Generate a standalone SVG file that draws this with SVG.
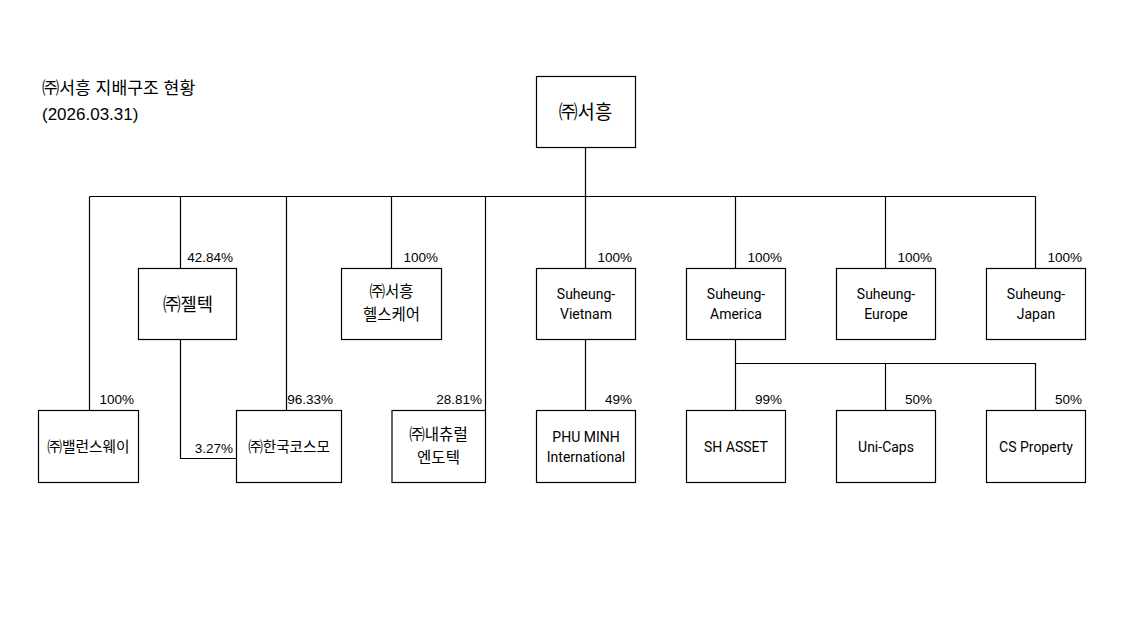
<svg xmlns="http://www.w3.org/2000/svg" width="1143" height="617" viewBox="0 0 1143 617">
<style>
text{font-family:"Liberation Sans","Noto Sans CJK KR",sans-serif;fill:#000}
.box{fill:#fff;stroke:#000;stroke-width:1.2}
.ln{fill:none;stroke:#000;stroke-width:1.2}
.pct{font-size:13.5px;text-anchor:end}
.kr{font-size:15.5px;text-anchor:middle}
.en{font-family:Roboto,"Liberation Sans",sans-serif;font-size:14px;text-anchor:middle}
</style>
<rect width="1143" height="617" fill="#fff"/>
<g id="title">
<text x="42" y="94" style="font-size:17.2px">㈜서흥 지배구조 현황</text>
<text x="42" y="120" style="font-size:17px">(2026.03.31)</text>
</g>
<g id="connectors">
<path class="ln" d="M585.5 148V196.5M89.5 196.5H1035.5"/>
<path class="ln" d="M89.5 196.5V410M180.5 196.5V268M286.5 196.5V410M391.5 196.5V268M485.5 196.5V410M585.5 196.5V268M735.5 196.5V268M885.5 196.5V268M1035.5 196.5V268"/>
<path class="ln" d="M180.5 339V458.5H236"/>
<path class="ln" d="M585.5 339V410"/>
<path class="ln" d="M735.5 339V410M735.5 363.5H1035.5V410M885.5 363.5V410"/>
</g>
<g id="n-root"><rect class="box" x="536.5" y="76.5" width="99" height="71"/><text class="kr" x="585.5" y="119" style="font-size:18.8px">㈜서흥</text></g>
<g id="n-zeltek"><rect class="box" x="138.5" y="268.5" width="98" height="71"/><text class="kr" x="188" y="310.5" style="font-size:17.7px">㈜젤텍</text></g>
<g id="n-healthcare"><rect class="box" x="341.5" y="268.5" width="100" height="71"/><text class="kr" x="391.5" y="297">㈜서흥</text><text class="kr" x="391.5" y="320">헬스케어</text></g>
<g id="n-vietnam"><rect class="box" x="536.5" y="268.5" width="99" height="71"/><text class="en" x="586" y="299">Suheung-</text><text class="en" x="586" y="319">Vietnam</text></g>
<g id="n-america"><rect class="box" x="686.5" y="268.5" width="99" height="71"/><text class="en" x="736" y="299">Suheung-</text><text class="en" x="736" y="319">America</text></g>
<g id="n-europe"><rect class="box" x="836.5" y="268.5" width="99" height="71"/><text class="en" x="886" y="299">Suheung-</text><text class="en" x="886" y="319">Europe</text></g>
<g id="n-japan"><rect class="box" x="986.5" y="268.5" width="99" height="71"/><text class="en" x="1036" y="299">Suheung-</text><text class="en" x="1036" y="319">Japan</text></g>
<g id="n-balanceway"><rect class="box" x="38.5" y="410.5" width="100" height="72"/><text class="kr" x="88.5" y="452" style="font-size:14.7px">㈜밸런스웨이</text></g>
<g id="n-kcosmo"><rect class="box" x="236.5" y="410.5" width="105" height="72"/><text class="kr" x="289" y="452" style="font-size:14.6px">㈜한국코스모</text></g>
<g id="n-natural"><rect class="box" x="392" y="410.5" width="93.5" height="72"/><text class="kr" x="438.5" y="440">㈜내츄럴</text><text class="kr" x="438.5" y="463">엔도텍</text></g>
<g id="n-phuminh"><rect class="box" x="536.5" y="410.5" width="99" height="72"/><text class="en" x="586" y="442">PHU MINH</text><text class="en" x="586" y="462">International</text></g>
<g id="n-shasset"><rect class="box" x="686.5" y="410.5" width="99" height="72"/><text class="en" x="736" y="452">SH ASSET</text></g>
<g id="n-unicaps"><rect class="box" x="836.5" y="410.5" width="99" height="72"/><text class="en" x="886" y="452">Uni-Caps</text></g>
<g id="n-csproperty"><rect class="box" x="986.5" y="410.5" width="99" height="72"/><text class="en" x="1036" y="452">CS Property</text></g>
<g id="labels">
<text class="pct" x="233" y="262">42.84%</text>
<text class="pct" x="438" y="262">100%</text>
<text class="pct" x="632" y="262">100%</text>
<text class="pct" x="782" y="262">100%</text>
<text class="pct" x="932" y="262">100%</text>
<text class="pct" x="1082" y="262">100%</text>
<text class="pct" x="134" y="404">100%</text>
<text class="pct" x="333" y="404">96.33%</text>
<text class="pct" x="482" y="404">28.81%</text>
<text class="pct" x="632" y="404">49%</text>
<text class="pct" x="782" y="404">99%</text>
<text class="pct" x="932" y="404">50%</text>
<text class="pct" x="1082" y="404">50%</text>
<text class="pct" x="233" y="453">3.27%</text>
</g>
</svg>
